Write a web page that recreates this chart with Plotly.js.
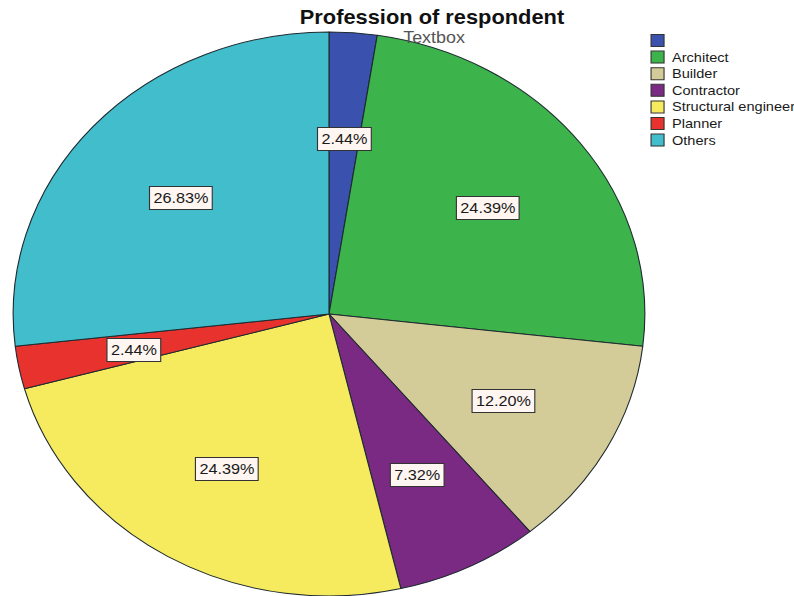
<!DOCTYPE html>
<html>
<head>
<meta charset="utf-8">
<script src="https://cdn.plot.ly/plotly-3.0.1.min.js"></script>
<style>
  html, body { margin: 0; padding: 0; background: #ffffff; overflow: hidden; }
  #wrap { width: 794px; height: 596px; overflow: hidden; }
  #chart { width: 709px; height: 596px; transform: scaleX(1.12); transform-origin: 0 0; }
</style>
</head>
<body>
<div id="wrap"><div id="chart"></div></div>
<script>
// ---- data ----
const categories = ['', 'Architect', 'Builder', 'Contractor', 'Structural engineer', 'Planner', 'Others'];
const percents = [2.44, 24.39, 12.20, 7.32, 24.39, 2.44, 26.83];
const sliceColors = ['#3a52ae', '#3cb44b', '#d4cc98', '#7a2a82', '#f6ea5e', '#e8322e', '#41bdcb'];
const chartTitle = 'Profession of respondent';
const extraText = 'Textbox';

// ---- geometry (inner, un-stretched pixel space) ----
const W = 709, H = 596;
const CX = 293.75, CY = 314, R = 282;
const LABEL_R = 0.63;

const px = x => x / W;
const py = y => 1 - y / H;

const total = percents.reduce((a, b) => a + b, 0);
const annotations = [];
let cum = 0;
percents.forEach((p, i) => {
  const mid = (cum + p / 2) / total * 2 * Math.PI;
  cum += p;
  annotations.push({
    xref: 'paper', yref: 'paper',
    x: px(CX + R * LABEL_R * Math.sin(mid)),
    y: py(CY + 2 - R * LABEL_R * Math.cos(mid)),
    xanchor: 'center', yanchor: 'middle',
    text: p.toFixed(2) + '%',
    showarrow: false,
    font: { family: 'Liberation Sans, Arial, sans-serif', size: 14.5, color: '#1a1a1a' },
    bgcolor: '#fff6f2', bordercolor: '#333333', borderwidth: 1, borderpad: 3
  });
});

annotations.push({
  xref: 'paper', yref: 'paper', x: px(387.5), y: py(37),
  xanchor: 'center', yanchor: 'middle', showarrow: false,
  text: extraText,
  font: { family: 'Liberation Sans, Arial, sans-serif', size: 16, color: '#555555' }
});

// custom legend
const LEG_X0 = 581.3, LEG_SW = 11.6, LEG_SH = 12, LEG_Y0 = 40.5, LEG_DY = 16.6, LEG_TX = 597.5;
const shapes = [];
categories.forEach((c, i) => {
  const yc = LEG_Y0 + i * LEG_DY;
  shapes.push({
    type: 'rect', xref: 'paper', yref: 'paper',
    x0: px(LEG_X0), x1: px(LEG_X0 + LEG_SW),
    y0: py(yc - LEG_SH / 2), y1: py(yc + LEG_SH / 2),
    fillcolor: sliceColors[i], line: { color: '#333333', width: 1 }
  });
  if (c) {
    annotations.push({
      xref: 'paper', yref: 'paper', x: px(LEG_TX), y: py(yc),
      xanchor: 'left', yanchor: 'middle', showarrow: false,
      text: c,
      font: { family: 'Liberation Sans, Arial, sans-serif', size: 13, color: '#1a1a1a' }
    });
  }
});

const trace = {
  type: 'pie',
  labels: categories.map((c, i) => c || '(blank)'),
  values: percents,
  sort: false,
  direction: 'clockwise',
  rotation: 0,
  textinfo: 'none',
  hoverinfo: 'label+percent',
  marker: { colors: sliceColors, line: { color: '#1e2a30', width: 1 } },
  domain: { x: [px(CX - R), px(CX + R)], y: [py(CY + R), py(CY - R)] },
  showlegend: false
};

const layout = {
  width: W, height: H,
  margin: { l: 0, r: 0, t: 0, b: 0 },
  paper_bgcolor: '#ffffff',
  showlegend: false,
  title: {
    text: '<b>' + chartTitle + '</b>',
    x: px(385.7), xanchor: 'center', xref: 'paper',
    y: py(17), yanchor: 'middle', yref: 'container',
    font: { family: 'Liberation Sans, Arial, sans-serif', size: 19.5, color: '#111111' }
  },
  annotations: annotations,
  shapes: shapes
};

Plotly.newPlot('chart', [trace], layout, { staticPlot: true, displayModeBar: false });
</script>
</body>
</html>
